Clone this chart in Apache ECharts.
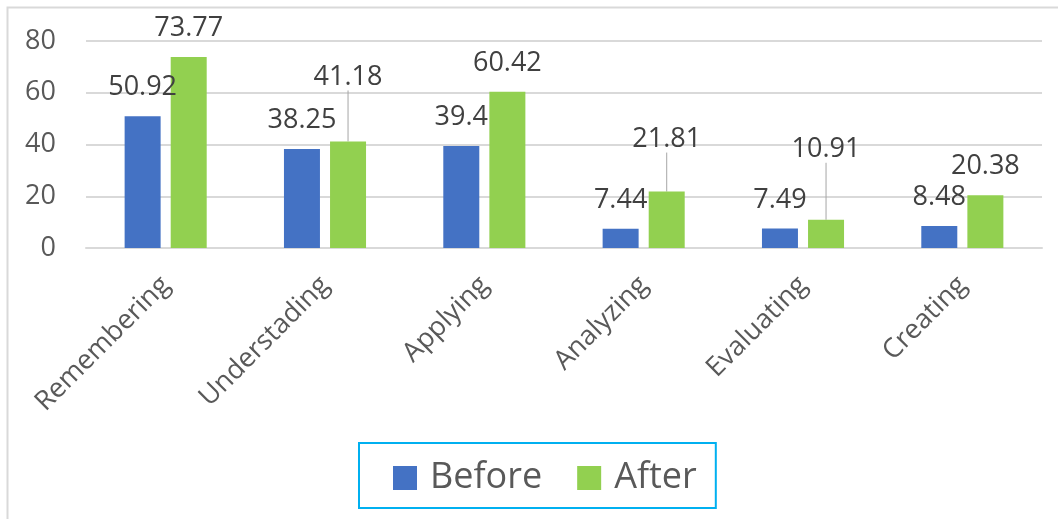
<!DOCTYPE html>
<html>
<head>
<meta charset="utf-8">
<script src="https://cdn.jsdelivr.net/npm/echarts@6/dist/echarts.min.js"></script>
<style>
  html, body { margin: 0; padding: 0; background: #ffffff; }
  #chart { width: 1058px; height: 519px; }
</style>
</head>
<body>
<div id="chart"></div>
<script>
// Bloom's taxonomy levels, scores before and after
const categories = ['Remembering', 'Understading', 'Applying', 'Analyzing', 'Evaluating', 'Creating'];
const beforeValues = [50.92, 38.25, 39.4, 7.44, 7.49, 8.48];
const afterValues = [73.77, 41.18, 60.42, 21.81, 10.91, 20.38];
const yTicks = { min: 0, max: 80, interval: 20 };

// Labels lifted above their bars and tied back with a leader line
const liftedAfterLabels = { 'Understading': -36, 'Analyzing': -24, 'Evaluating': -42 };

const FONT = 'Open Sans';
const labelStyle = {
  show: true,
  position: 'top',
  distance: 15,
  fontFamily: FONT,
  fontSize: 27,
  color: '#404040'
};

const afterData = afterValues.map((v, i) => {
  const lifted = liftedAfterLabels[categories[i]] !== undefined;
  return lifted
    ? { value: v, labelLine: { show: true, lineStyle: { color: '#A6A6A6', width: 1 } } }
    : { value: v };
});

const chart = echarts.init(document.getElementById('chart'), null, { renderer: 'canvas' });
chart.setOption({
  backgroundColor: '#ffffff',
  animation: false,
  textStyle: { fontFamily: FONT },
  graphic: [{
    type: 'rect',
    silent: true,
    shape: { x: 7.5, y: 7.5, width: 1200, height: 700 },
    style: { fill: 'none', stroke: '#D9D9D9', lineWidth: 2 }
  }],
  grid: { left: 86, right: 16, top: 41, bottom: 271, containLabel: false },
  legend: {
    left: 359,
    top: 443,
    padding: [17, 19, 12, 34],
    borderColor: '#00B0F0',
    borderWidth: 2,
    itemWidth: 24,
    itemHeight: 24,
    itemGap: 35,
    icon: 'rect',
    textStyle: { fontFamily: FONT, fontSize: 36, color: '#595959', padding: [0, 0, 0, 8] },
    data: ['Before', 'After']
  },
  xAxis: {
    type: 'category',
    data: categories,
    axisLine: { lineStyle: { color: '#D9D9D9', width: 2 } },
    axisTick: { show: false },
    axisLabel: {
      rotate: 45,
      margin: 33,
      fontFamily: FONT,
      fontSize: 27,
      color: '#595959',
      interval: 0
    }
  },
  yAxis: {
    type: 'value',
    min: yTicks.min,
    max: yTicks.max,
    interval: yTicks.interval,
    axisLine: { show: false },
    axisTick: { show: false },
    splitLine: { lineStyle: { color: '#D9D9D9', width: 2 } },
    axisLabel: { fontFamily: FONT, fontSize: 27, color: '#595959', margin: 30 }
  },
  series: [
    {
      name: 'Before',
      type: 'bar',
      data: beforeValues,
      barWidth: 36,
      barGap: '28%',
      itemStyle: { color: '#4472C4' },
      label: labelStyle
    },
    {
      name: 'After',
      type: 'bar',
      data: afterData,
      barWidth: 36,
      itemStyle: { color: '#92D050' },
      label: labelStyle,
      labelLayout: function (params) {
        const shift = liftedAfterLabels[categories[params.dataIndex]];
        return shift !== undefined ? { dy: shift } : {};
      }
    }
  ]
});
</script>
</body>
</html>
